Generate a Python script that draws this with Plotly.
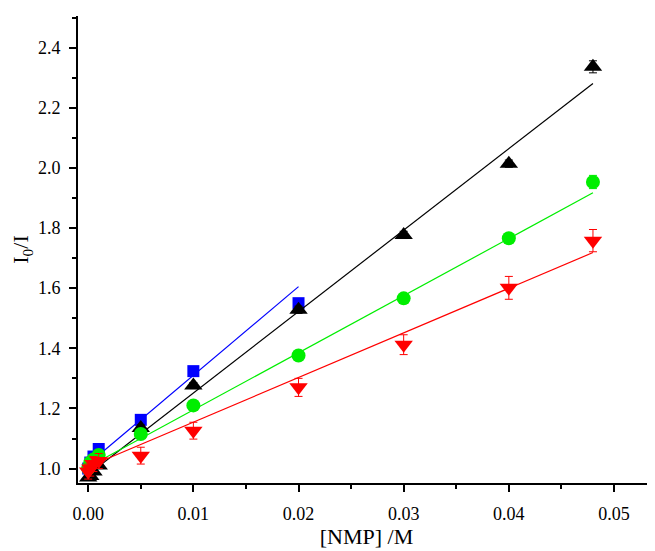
import plotly.graph_objects as go

# concentrations [NMP] / M
x_blue = [0, 0.0002, 0.0005, 0.001, 0.005, 0.01, 0.02]
y_blue = [1.0, 1.02, 1.04, 1.065, 1.162, 1.324, 1.55]
e_blue = [0.008, 0.008, 0.008, 0.008, 0.01, 0.01, 0.012]

x_all = [0, 0.0002, 0.0005, 0.001, 0.005, 0.01, 0.02, 0.03, 0.04, 0.048]
y_black = [0.97, 0.975, 0.99, 1.01, 1.135, 1.276, 1.528, 1.777, 2.014, 2.336]
e_black = [0.008, 0.008, 0.008, 0.008, 0.01, 0.01, 0.012, 0.012, 0.012, 0.02]
y_green = [1.0, 1.02, 1.03, 1.045, 1.115, 1.21, 1.376, 1.566, 1.766, 1.953]
e_green = [0.008, 0.008, 0.008, 0.008, 0.01, 0.01, 0.01, 0.01, 0.012, 0.022]
y_red = [0.99, 1.0, 1.015, 1.025, 1.043, 1.126, 1.27, 1.412, 1.601, 1.758]
e_red = [0.025, 0.025, 0.025, 0.025, 0.028, 0.028, 0.03, 0.033, 0.038, 0.037]

x_ticks = [0, 0.01, 0.02, 0.03, 0.04, 0.05]
x_tick_labels = ["0.00", "0.01", "0.02", "0.03", "0.04", "0.05"]
y_ticks = [1.0, 1.2, 1.4, 1.6, 1.8, 2.0, 2.2, 2.4]
y_tick_labels = ["1.0", "1.2", "1.4", "1.6", "1.8", "2.0", "2.2", "2.4"]

# linear fits (slope, intercept)
fit_blue = (29.5, 1.015)
fit_black = (27.1, 0.980)
fit_green = (19.0, 1.005)
fit_red = (14.84, 1.006)

fig = go.Figure()

def add_series(xs, ys, es, fit, color, symbol, size):
    x0, x1 = min(xs), max(xs)
    fig.add_trace(go.Scatter(
        x=[x0, x1], y=[fit[1] + fit[0] * x0, fit[1] + fit[0] * x1],
        mode="lines", line=dict(color=color, width=1.2),
        showlegend=False, hoverinfo="skip"))
    fig.add_trace(go.Scatter(
        x=xs, y=ys, mode="markers",
        marker=dict(color=color, symbol=symbol, size=size, line=dict(width=0)),
        error_y=dict(type="data", array=es, visible=True, color=color,
                     thickness=1, width=4),
        showlegend=False))

add_series(x_blue, y_blue, e_blue, fit_blue, "#0000ff", "square", 12)
add_series(x_all, y_black, e_black, fit_black, "#000000", "triangle-up", 16)
add_series(x_all, y_green, e_green, fit_green, "#00ee00", "circle", 14)
add_series(x_all, y_red, e_red, fit_red, "#ff0000", "triangle-down", 16)

FAM = "Liberation Serif"

# page body has an 8px margin, so the figure is sized to fit the window
fig.update_layout(
    width=647, height=543,
    margin=dict(l=70, r=0, t=8, b=68),
    paper_bgcolor="white", plot_bgcolor="white",
    font=dict(family=FAM, color="black", size=17),
    showlegend=False,
)
fig.update_xaxes(
    range=[-0.00097, 0.0539], automargin=False,
    tickvals=x_ticks, ticktext=x_tick_labels,
    ticks="outside", ticklen=7, tickwidth=1.5, tickcolor="black",
    ticklabelstandoff=6,
    minor=dict(dtick=0.005, tick0=0, ticks="outside", ticklen=4, tickwidth=1.5, tickcolor="black"),
    showline=True, linecolor="black", linewidth=2, mirror=False,
    showgrid=False, zeroline=False,
    tickfont=dict(family=FAM, color="black", size=18),
    title=dict(text="[NMP] /M", font=dict(family=FAM, color="black", size=22), standoff=0),
)
fig.update_yaxes(
    range=[0.952, 2.505], automargin=False,
    tickvals=y_ticks, ticktext=y_tick_labels,
    ticks="outside", ticklen=7, tickwidth=1.5, tickcolor="black",
    ticklabelstandoff=5,
    minor=dict(dtick=0.1, tick0=0, ticks="outside", ticklen=4, tickwidth=1.5, tickcolor="black"),
    showline=True, linecolor="black", linewidth=2, mirror=False,
    showgrid=False, zeroline=False,
    tickfont=dict(family=FAM, color="black", size=18),
    title=dict(text="I<sub>0</sub>/I", font=dict(family=FAM, color="black", size=22), standoff=12),
)

fig.write_html("out.html")
